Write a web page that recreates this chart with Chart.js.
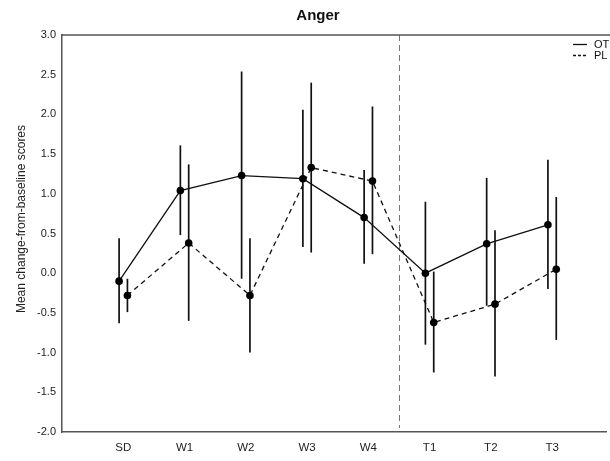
<!DOCTYPE html>
<html>
<head>
<meta charset="utf-8">
<script src="https://cdn.jsdelivr.net/npm/chart.js@4/dist/chart.umd.min.js"></script>
<style>
  html, body { margin: 0; padding: 0; background: #fff; }
  #wrap { width: 610px; height: 461px; }
</style>
</head>
<body>
<div id="wrap"><canvas id="angerChart" width="610" height="461"></canvas></div>
<script>
// data
const timepoints = ['SD', 'W1', 'W2', 'W3', 'W4', 'T1', 'T2', 'T3'];
const otMean  = [-0.10, 1.04, 1.23, 1.19, 0.70, 0.00, 0.37, 0.61];
const otUpper = [ 0.44, 1.61, 2.54, 2.06, 1.30, 0.90, 1.20, 1.43];
const otLower = [-0.63, 0.48, -0.07, 0.33, 0.12, -0.90, -0.41, -0.20];
const plMean  = [-0.28, 0.38, -0.28, 1.33, 1.16, -0.62, -0.39, 0.05];
const plUpper = [-0.07, 1.37, 0.44, 2.40, 2.10, 0.02, 0.54, 0.96];
const plLower = [-0.49, -0.60, -1.00, 0.26, 0.24, -1.25, -1.30, -0.84];
const yTicks = [-2.0, -1.5, -1.0, -0.5, 0.0, 0.5, 1.0, 1.5, 2.0, 2.5, 3.0];
const splitAt = 5.5; // between W4 and T1
const shift = 0.068;

const FONT = "'Liberation Sans', Arial, sans-serif";

function toPoints(vals, dx) {
  return vals.map((v, i) => ({ x: i + 1 + dx, y: v }));
}

// error bars, split line, frame top, title, legend
const extras = {
  id: 'extras',
  beforeDatasetsDraw(chart) {
    const { ctx, scales: { x, y }, chartArea } = chart;
    ctx.save();
    // vertical dashed divider
    ctx.strokeStyle = '#777';
    ctx.lineWidth = 1;
    ctx.setLineDash([6, 4]);
    const xs = Math.round(x.getPixelForValue(splitAt)) + 0.5;
    ctx.beginPath();
    ctx.moveTo(xs, chartArea.top);
    ctx.lineTo(xs, chartArea.bottom - 4);
    ctx.stroke();
    ctx.setLineDash([]);

    // error bars
    ctx.strokeStyle = '#111';
    ctx.lineWidth = 1.7;
    const bars = [[otUpper, otLower, -shift], [plUpper, plLower, shift]];
    bars.forEach(([up, lo, dx]) => {
      up.forEach((u, i) => {
        const px = x.getPixelForValue(i + 1 + dx);
        ctx.beginPath();
        ctx.moveTo(px, y.getPixelForValue(u));
        ctx.lineTo(px, y.getPixelForValue(lo[i]));
        ctx.stroke();
      });
    });

    // top frame line
    ctx.strokeStyle = '#555';
    ctx.lineWidth = 1.5;
    ctx.beginPath();
    ctx.moveTo(chartArea.left, chartArea.top);
    ctx.lineTo(chart.width, chartArea.top);
    ctx.stroke();
    ctx.restore();
  },
  afterDraw(chart) {
    const { ctx } = chart;
    ctx.save();
    ctx.fillStyle = '#111';
    ctx.font = 'bold 15px ' + FONT;
    ctx.textAlign = 'center';
    ctx.textBaseline = 'middle';
    ctx.fillText('Anger', 318, 16);

    // y axis title
    ctx.save();
    ctx.translate(22, 219);
    ctx.rotate(-Math.PI / 2);
    ctx.font = '12px ' + FONT;
    ctx.fillStyle = '#222';
    ctx.fillText('Mean change-from-baseline scores', 0, 0);
    ctx.restore();

    // legend
    ctx.font = '11px ' + FONT;
    ctx.textAlign = 'left';
    ctx.strokeStyle = '#111';
    ctx.lineWidth = 1.3;
    ctx.beginPath();
    ctx.moveTo(573, 44.5);
    ctx.lineTo(587, 44.5);
    ctx.stroke();
    ctx.setLineDash([3, 2]);
    ctx.beginPath();
    ctx.moveTo(573, 55.5);
    ctx.lineTo(588, 55.5);
    ctx.stroke();
    ctx.setLineDash([]);
    ctx.fillText('OT', 594, 45);
    ctx.fillText('PL', 594, 56);
    ctx.restore();
  }
};

const ctx = document.getElementById('angerChart').getContext('2d');
new Chart(ctx, {
  type: 'line',
  data: {
    datasets: [{
      label: 'OT',
      data: toPoints(otMean, -shift),
      borderColor: '#111',
      backgroundColor: '#000',
      borderWidth: 1.3,
      pointRadius: 3.8,
      pointBorderWidth: 0,
      tension: 0
    }, {
      label: 'PL',
      data: toPoints(plMean, shift),
      borderColor: '#111',
      backgroundColor: '#000',
      borderWidth: 1.3,
      borderDash: [5, 4],
      pointRadius: 3.8,
      pointBorderWidth: 0,
      tension: 0
    }]
  },
  options: {
    responsive: false,
    animation: false,
    layout: { padding: { top: 35, right: 2, left: 0, bottom: 0 } },
    plugins: {
      legend: { display: false },
      tooltip: { enabled: false }
    },
    scales: {
      x: {
        type: 'linear',
        min: 0,
        max: 8.88,
        grid: { display: false, drawTicks: false },
        border: { display: true, color: '#555', width: 1.5 },
        afterBuildTicks: (s) => { s.ticks = timepoints.map((t, i) => ({ value: i + 1 })); },
        afterFit: (s) => { s.height = 29; },
        ticks: {
          autoSkip: false,
          maxRotation: 0,
          padding: 9,
          color: '#222',
          font: { family: FONT, size: 11.5 },
          callback: (v) => timepoints[v - 1] || ''
        }
      },
      y: {
        min: -2,
        max: 3,
        grid: { display: false, drawTicks: false },
        border: { display: true, color: '#555', width: 1.5 },
        afterBuildTicks: (s) => { s.ticks = yTicks.map(v => ({ value: v })); },
        afterFit: (s) => { s.width = 62; },
        ticks: {
          padding: 6,
          color: '#222',
          font: { family: FONT, size: 11 },
          callback: (v) => v.toFixed(1)
        }
      }
    }
  },
  plugins: [extras]
});
</script>
</body>
</html>
